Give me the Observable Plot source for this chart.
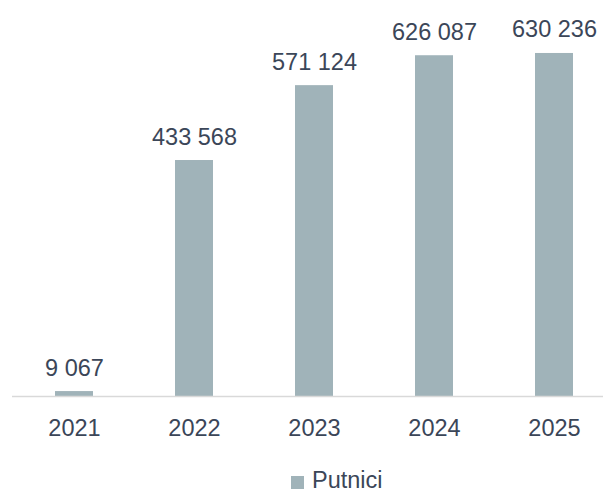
<!DOCTYPE html>
<html>
<head>
<meta charset="utf-8">
<script src="https://cdn.jsdelivr.net/npm/d3@7"></script>
<script src="https://cdn.jsdelivr.net/npm/@observablehq/plot@0.6"></script>
<style>
  html, body { margin: 0; padding: 0; background: #fff; }
  #wrap { position: relative; width: 603px; height: 495px; overflow: hidden; font-family: "Liberation Sans", Arial, sans-serif; }
  #legend { position: absolute; left: 291px; top: 471px; height: 19px; display: flex; align-items: center; font-size: 23.5px; line-height: 19px; color: #3b4658; white-space: nowrap; }
  #legend .sw { width: 13px; height: 13px; background: #a0b3b9; margin-right: 8px; margin-top: 4px; }
  #legend span { display: block; height: 19px; line-height: 19px; }
</style>
</head>
<body>
<div id="wrap"></div>
<script>
const years = ["2021", "2022", "2023", "2024", "2025"];
const putnici = [9067, 433568, 571124, 626087, 630236];
const seriesName = "Putnici";

const data = years.map((y, i) => ({year: y, value: putnici[i]}));
const fmt = d3.formatLocale({decimal: ",", thousands: " ", grouping: [3], currency: ["", ""]}).format(",d");

const barColor = "#a0b3b9";
const textColor = "#3b4658";
const H = 468;
const baseY = 396;

const chart = Plot.plot({
  width: 603,
  height: H,
  marginTop: 15,
  marginBottom: H - baseY,
  marginLeft: 12,
  marginRight: 0,
  style: {fontFamily: "Liberation Sans, Arial, sans-serif", fontSize: "23.5px", color: textColor, background: "#fff"},
  x: {domain: years, range: [12, 615], paddingInner: 0.685, paddingOuter: 0.3425, label: null},
  y: {domain: [0, 700000], axis: null},
  marks: [
    Plot.barY(data, {x: "year", y: "value", fill: barColor}),
    Plot.ruleY([0], {stroke: "#d9d9d9", strokeWidth: 1.5}),
    Plot.text(data, {x: "year", y: "value", text: d => fmt(d.value), lineAnchor: "bottom", dy: -16, fill: textColor, fontSize: 23.5}),
    Plot.axisX({tickSize: 0, tickPadding: 23, fontSize: 23.5, color: textColor, label: null})
  ]
});

const wrap = document.getElementById("wrap");
wrap.appendChild(chart);
const legend = document.createElement("div");
legend.id = "legend";
legend.innerHTML = `<div class="sw"></div><span>${seriesName}</span>`;
wrap.appendChild(legend);
</script>
</body>
</html>
